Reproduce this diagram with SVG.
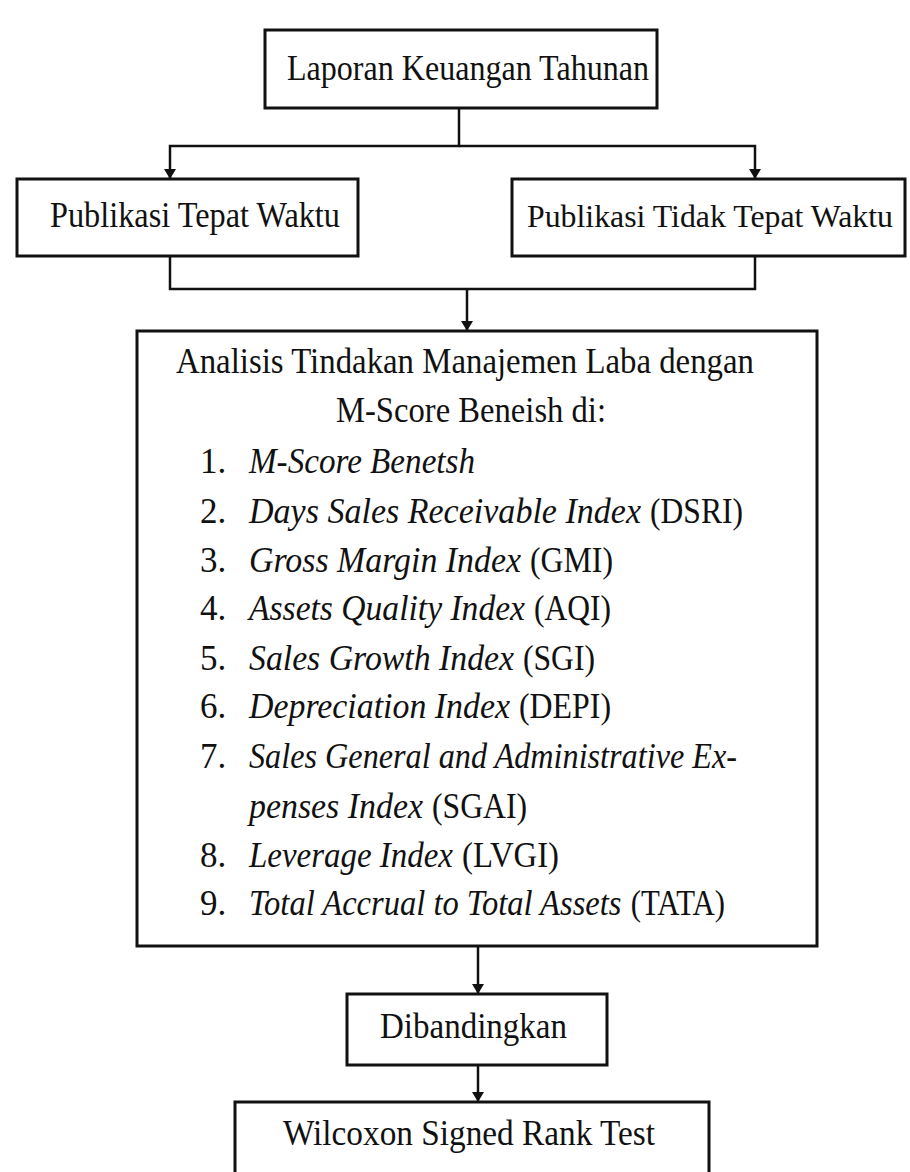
<svg xmlns="http://www.w3.org/2000/svg" width="910" height="1172" viewBox="0 0 910 1172">
<style>
.box{fill:#fff;stroke:#111;stroke-width:3}
.t{font-family:"Liberation Serif","Times New Roman",serif;font-size:35px;fill:#111}
.i{font-style:italic}
.c{fill:none;stroke:#111;stroke-width:2.5}
</style>
<defs>
<marker id="ah" markerUnits="userSpaceOnUse" markerWidth="12" markerHeight="12" viewBox="0 -6 10 12" refX="10" refY="0" orient="auto">
<path d="M0,-6 L10,0 L0,6 z" fill="#111"/>
</marker>
</defs>
<rect width="910" height="1172" fill="#fff"/>
<g id="connectors">
<path class="c" d="M459,108 V146 H170 V179" marker-end="url(#ah)"/>
<path class="c" d="M459,146 H755 V179" marker-end="url(#ah)"/>
<path class="c" d="M170,256 V289 H755 V256"/>
<path class="c" d="M467,289 V331" marker-end="url(#ah)"/>
<path class="c" d="M478,946 V994" marker-end="url(#ah)"/>
<path class="c" d="M478,1065 V1102" marker-end="url(#ah)"/>
</g>
<g id="laporan">
<rect class="box" x="265" y="30" width="392" height="78"/>
<text class="t" x="287" y="80" textLength="362" lengthAdjust="spacingAndGlyphs">Laporan Keuangan Tahunan</text>
</g>
<g id="tepat">
<rect class="box" x="17" y="179" width="341" height="77"/>
<text class="t" x="50" y="227" textLength="290" lengthAdjust="spacingAndGlyphs">Publikasi Tepat Waktu</text>
</g>
<g id="tidak-tepat">
<rect class="box" x="512" y="179" width="393" height="77"/>
<text class="t" x="527" y="227" style="font-size:32.5px" textLength="366" lengthAdjust="spacingAndGlyphs">Publikasi Tidak Tepat Waktu</text>
</g>
<g id="analisis">
<rect class="box" x="137" y="331" width="680" height="615"/>
<text class="t" x="176" y="373" textLength="578" lengthAdjust="spacingAndGlyphs">Analisis Tindakan Manajemen Laba dengan</text>
<text class="t" x="336" y="422" textLength="270" lengthAdjust="spacingAndGlyphs">M-Score Beneish di:</text>
<text class="t" x="200" y="473">1.</text>
<text class="t i" x="249" y="473" textLength="226" lengthAdjust="spacingAndGlyphs">M-Score Benetsh</text>
<text class="t" x="200" y="523">2.</text>
<text class="t i" x="249" y="523" textLength="392" lengthAdjust="spacingAndGlyphs">Days Sales Receivable Index</text>
<text class="t" x="743" y="523" text-anchor="end" textLength="93" lengthAdjust="spacingAndGlyphs">(DSRI)</text>
<text class="t" x="200" y="572">3.</text>
<text class="t i" x="249" y="572" textLength="272" lengthAdjust="spacingAndGlyphs">Gross Margin Index</text>
<text class="t" x="613" y="572" text-anchor="end" textLength="83" lengthAdjust="spacingAndGlyphs">(GMI)</text>
<text class="t" x="200" y="620">4.</text>
<text class="t i" x="249" y="620" textLength="276" lengthAdjust="spacingAndGlyphs">Assets Quality Index</text>
<text class="t" x="611" y="620" text-anchor="end" textLength="77" lengthAdjust="spacingAndGlyphs">(AQI)</text>
<text class="t" x="200" y="670">5.</text>
<text class="t i" x="249" y="670" textLength="265" lengthAdjust="spacingAndGlyphs">Sales Growth Index</text>
<text class="t" x="595" y="670" text-anchor="end" textLength="72" lengthAdjust="spacingAndGlyphs">(SGI)</text>
<text class="t" x="200" y="718">6.</text>
<text class="t i" x="249" y="718" textLength="261" lengthAdjust="spacingAndGlyphs">Depreciation Index</text>
<text class="t" x="611" y="718" text-anchor="end" textLength="92" lengthAdjust="spacingAndGlyphs">(DEPI)</text>
<text class="t" x="200" y="768">7.</text>
<text class="t i" x="249" y="768" textLength="488" lengthAdjust="spacingAndGlyphs">Sales General and Administrative Ex-</text>
<text class="t i" x="249" y="818" textLength="174" lengthAdjust="spacingAndGlyphs">penses Index</text>
<text class="t" x="527" y="818" text-anchor="end" textLength="95" lengthAdjust="spacingAndGlyphs">(SGAI)</text>
<text class="t" x="200" y="867">8.</text>
<text class="t i" x="249" y="867" textLength="204" lengthAdjust="spacingAndGlyphs">Leverage Index</text>
<text class="t" x="559" y="867" text-anchor="end" textLength="97" lengthAdjust="spacingAndGlyphs">(LVGI)</text>
<text class="t" x="200" y="915">9.</text>
<text class="t i" x="0" y="0" transform="translate(249,915) scale(0.93,1)">Total Accrual to Total Assets</text>
<text class="t" x="0" y="0" text-anchor="end" transform="translate(725,915) scale(0.88,1)">(TATA)</text>
</g>
<g id="dibandingkan">
<rect class="box" x="347" y="994" width="260" height="71"/>
<text class="t" x="380" y="1038" textLength="187" lengthAdjust="spacingAndGlyphs">Dibandingkan</text>
</g>
<g id="wilcoxon">
<rect class="box" x="235" y="1102" width="474" height="90"/>
<text class="t" x="283" y="1145" textLength="372" lengthAdjust="spacingAndGlyphs">Wilcoxon Signed Rank Test</text>
</g>
</svg>
